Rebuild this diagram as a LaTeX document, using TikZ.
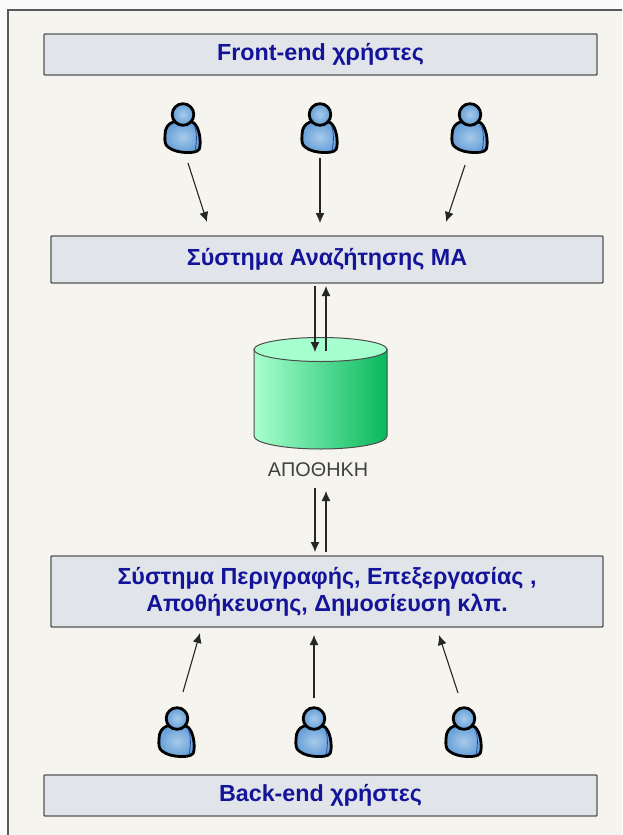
\documentclass[tikz,border=0pt]{standalone}
\usepackage{fontspec}
\setmainfont{Liberation Sans}
\usetikzlibrary{arrows.meta,shadings}
\definecolor{pagebg}{HTML}{F5F4EF}
\definecolor{boxfill}{HTML}{E1E5EA}
\definecolor{boxline}{HTML}{555555}
\definecolor{navy}{HTML}{14149A}
\definecolor{cylL}{HTML}{A8FFCF}
\definecolor{cylR}{HTML}{08B85C}
\definecolor{cylTop}{HTML}{A6FFCE}
\definecolor{userFill}{HTML}{659FD8}
\definecolor{userLight}{HTML}{A8CAEA}
\definecolor{userSeam}{HTML}{2B4A9A}
\tikzset{
  x=1pt,y=-1pt,
  band/.style={draw=boxline,line width=1.4pt,fill=boxfill,rounded corners=0.8pt,inner sep=0pt,
    text=navy,font=\bfseries\fontsize{23.3}{27}\selectfont,align=center},
  flow/.style={draw=black!85,line width=1.1pt,-{Latex[length=10pt,width=9pt]}},
  person/.pic={
    \path[draw=black,line width=2.8pt,inner color=userLight,outer color=userFill]
      (-10,-5) .. controls (-15,-3) and (-18,1) .. (-18,8)
      .. controls (-18.5,14) and (-18,18) .. (-15,20)
      .. controls (-10,24) and (-3,25.5) .. (5,25.5)
      .. controls (13,25.5) and (17,24) .. (17,19)
      .. controls (18,10) and (15,-3) .. (9,-5) -- cycle;
    \draw[userSeam,line width=0.8pt] (-8,-4) .. controls (-3,-1) and (3,-1) .. (8,-4);
    \draw[userSeam,line width=0.8pt] (11,-2) .. controls (14,4) and (14,14) .. (12,24);
    \path[draw=black,line width=2.8pt,inner color=userLight,outer color=userFill]
      (0,-12.5) circle[radius=10.8];
  }
}
\begin{document}
\begin{tikzpicture}
\useasboundingbox (0,0) rectangle (622,835);
\fill[white!96!gray] (0,0) rectangle (622,835);
\fill[pagebg] (8,10) rectangle (622,835);
\draw[black!65,line width=1.3pt] (622,10) -- (8,10) -- (8,835);

\node[band,minimum width=553pt,minimum height=41pt] (front) at (320.5,54.5) {\raisebox{-1pt}{Front-end χρήστες}};
\node[band,minimum width=552pt,minimum height=47pt] (search) at (327,259.5) {Σύστημα Αναζήτησης ΜΑ};
\node[band,minimum width=552pt,minimum height=71pt] (descr) at (327,591.5) {Σύστημα Περιγραφής, Επεξεργασίας ,\\Αποθήκευσης, Δημοσίευση κλπ.};
\node[band,minimum width=553pt,minimum height=41pt] (back) at (320.5,795.5) {\raisebox{-1pt}{Back-end χρήστες}};

% storage cylinder
\path[left color=cylL,right color=cylR,draw=black!70,line width=1pt]
  (254,349) -- (254,436) arc[x radius=66.5,y radius=13,start angle=180,end angle=0]
  -- (387,349) -- cycle;
\path[fill=cylTop,draw=black!70,line width=1pt] (320.5,349.5) ellipse[x radius=66.5,y radius=12];
\node[inner sep=0pt,text=black!75,font=\fontsize{19.8}{22}\selectfont] (store) at (318,470) {ΑΠΟΘΗΚΗ};

% users
\pic at (183,127) {person};
\pic at (320,127) {person};
\pic at (470,127) {person};
\pic at (177,731) {person};
\pic at (314,731) {person};
\pic at (464,731) {person};

% connector ends
\coordinate (a1) at (188,163); \coordinate (b1) at (207,222);
\coordinate (a2) at (320,158); \coordinate (b2) at (320,223);
\coordinate (a3) at (465,165); \coordinate (b3) at (446,222);
\coordinate (c1) at (315,286); \coordinate (d1) at (315,352);
\coordinate (c2) at (326,351); \coordinate (d2) at (326,286);
\coordinate (e1) at (315,488); \coordinate (f1) at (315,552);
\coordinate (e2) at (326,552); \coordinate (f2) at (326,491);
\coordinate (g1) at (183,692); \coordinate (h1) at (200,633);
\coordinate (g2) at (314,698); \coordinate (h2) at (314,635);
\coordinate (g3) at (458,693); \coordinate (h3) at (439,635);
\foreach \s/\t in {a1/b1,a2/b2,a3/b3,c1/d1,c2/d2,e1/f1,e2/f2,g1/h1,g2/h2,g3/h3}
  \draw[flow] (\s) -- (\t);
\end{tikzpicture}
\end{document}
